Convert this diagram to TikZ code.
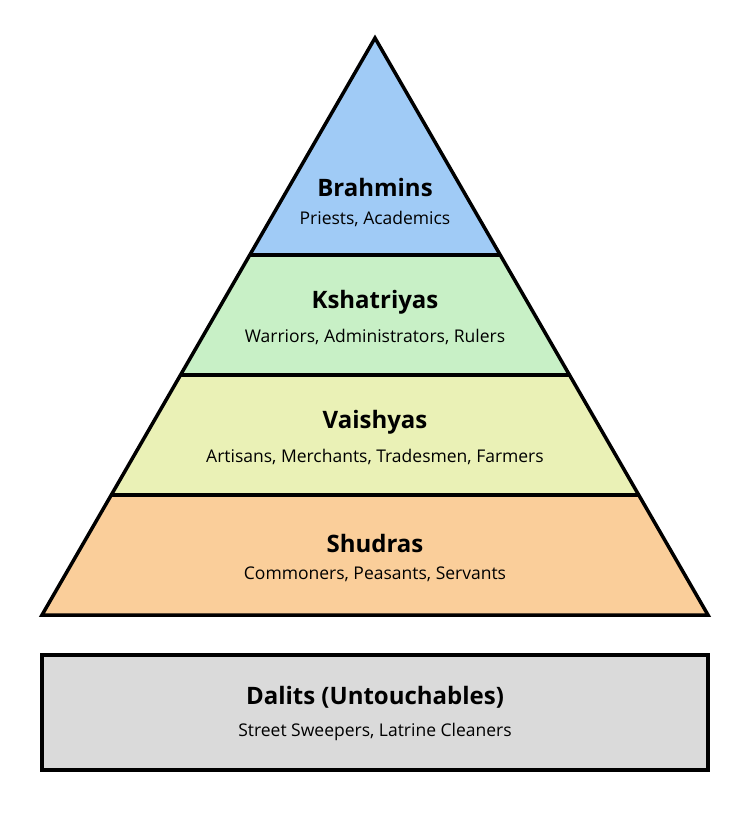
\documentclass[tikz,border=0pt]{standalone}
\usepackage{fontspec}
\setmainfont{Open Sans}
\usepackage{tikz}
\usetikzlibrary{positioning}
\definecolor{brahmin}{RGB}{160,203,246}
\definecolor{kshatriya}{RGB}{200,240,198}
\definecolor{vaishya}{RGB}{234,241,182}
\definecolor{shudra}{RGB}{250,206,154}
\definecolor{dalit}{RGB}{218,218,218}
\tikzset{
  band/.style={draw=black, line width=3.5pt, line join=miter},
  title/.style={font=\fontsize{24}{28}\selectfont\bfseries},
  sub/.style={font=\fontsize{17.5}{21}\selectfont},
}

\begin{document}
\begin{tikzpicture}[x=1pt,y=-1pt]
      \useasboundingbox (0,0) rectangle (750,838);
      \coordinate (Apex) at (375,38);
      \coordinate (L1) at (249.8,255); \coordinate (R1) at (500.2,255);
      \coordinate (L2) at (180.5,375); \coordinate (R2) at (569.5,375);
      \coordinate (L3) at (111.3,495); \coordinate (R3) at (638.7,495);
      \coordinate (L4) at (42,615);    \coordinate (R4) at (708,615);
      \fill[brahmin] (Apex) -- (R1) -- (L1) -- cycle;
      \fill[kshatriya] (L1) -- (R1) -- (R2) -- (L2) -- cycle;
      \fill[vaishya] (L2) -- (R2) -- (R3) -- (L3) -- cycle;
      \fill[shudra] (L3) -- (R3) -- (R4) -- (L4) -- cycle;
      \draw[band] (Apex) -- (R4) -- (L4) -- cycle;
      \draw[band] (L1) -- (R1);
      \draw[band] (L2) -- (R2);
      \draw[band] (L3) -- (R3);
      \draw[band, fill=dalit] (42,655) rectangle (708,770);
      \node[title] (Brahmins) at (375,187) {Brahmins};
      \node[sub, below=8pt of Brahmins] (BrahminsSub) {Priests, Academics};
      \node[title] (Kshatriyas) at (375,302) {Kshatriyas};
      \node[sub, below=8pt of Kshatriyas] (KshatriyasSub) {Warriors, Administrators, Rulers};
      \node[title] (Vaishyas) at (375,422) {Vaishyas};
      \node[sub, below=8pt of Vaishyas] (VaishyasSub) {Artisans, Merchants, Tradesmen, Farmers};
      \node[title] (Shudras) at (375,543) {Shudras};
      \node[sub, below=8pt of Shudras] (ShudrasSub) {Commoners, Peasants, Servants};
      \node[title] (Dalits) at (375,697) {Dalits (Untouchables)};
      \node[sub, below=8pt of Dalits] (DalitsSub) {Street Sweepers, Latrine Cleaners};
    \end{tikzpicture}
\end{document}
